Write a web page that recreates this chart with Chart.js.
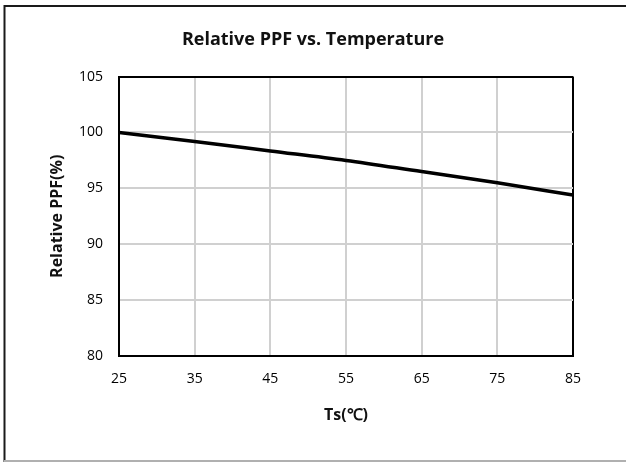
<!DOCTYPE html>
<html>
<head>
<meta charset="utf-8">
<script src="https://cdn.jsdelivr.net/npm/chart.js@4/dist/chart.umd.min.js"></script>
<style>
  html, body { margin: 0; padding: 0; background: #fff; }
  #wrap { position: relative; width: 626px; height: 462px; }
</style>
</head>
<body>
<div id="wrap"><canvas id="ppfChart" width="626" height="462"></canvas></div>
<script>
// 温度 (℃) 与相对光量子通量 (%)
var temperatures = [25, 35, 45, 55, 65, 75, 85];
var relativePPF = [100, 99.2, 98.35, 97.5, 96.5, 95.5, 94.4];
var xTicks = [25, 35, 45, 55, 65, 75, 85];
var yTicks = [80, 85, 90, 95, 100, 105];

var FONT = "'Open Sans', 'Liberation Sans', sans-serif";

// 外框：上、左为深色，下为浅灰
var frame = {
    id: 'frame',
    beforeDraw: function(chart) {
        var ctx = chart.ctx;
        ctx.save();
        ctx.fillStyle = '#fff';
        ctx.fillRect(0, 0, chart.width, chart.height);
        ctx.strokeStyle = '#1a1a1a';
        ctx.lineWidth = 2;
        ctx.beginPath();
        ctx.moveTo(4.5, chart.height);
        ctx.lineTo(4.5, 6);
        ctx.lineTo(chart.width, 6);
        ctx.stroke();
        ctx.strokeStyle = '#b0b0b0';
        ctx.beginPath();
        ctx.moveTo(4, 461);
        ctx.lineTo(chart.width, 461);
        ctx.stroke();
        ctx.restore();
    }
};

function gridColor(edge) {
    return function(c) {
        return c.tick && c.tick.value === edge ? '#000' : '#d0d0d0';
    };
}

var points = temperatures.map(function(t, i) {
    return { x: t, y: relativePPF[i] };
});

new Chart(document.getElementById('ppfChart'), {
    type: 'line',
    data: {
        datasets: [{
            data: points,
            borderColor: '#000',
            borderWidth: 3.5,
            pointRadius: 0,
            cubicInterpolationMode: 'monotone',
            fill: false
        }]
    },
    options: {
        responsive: false,
        animation: false,
        layout: { padding: 0 },
        plugins: {
            legend: { display: false },
            tooltip: { enabled: false },
            title: {
                display: true,
                text: 'Relative PPF vs. Temperature',
                color: '#111',
                font: { family: FONT, size: 18, weight: 'bold', lineHeight: 1.2 },
                padding: { top: 29, bottom: 26 }
            }
        },
        scales: {
            x: {
                type: 'linear',
                min: xTicks[0],
                max: xTicks[xTicks.length - 1],
                afterBuildTicks: function(scale) {
                    scale.ticks = xTicks.map(function(v) { return { value: v }; });
                },
                afterFit: function(scale) { scale.height = 106; },
                grid: {
                    color: gridColor(85),
                    lineWidth: 2,
                    drawTicks: false
                },
                border: { color: '#000', width: 2 },
                ticks: {
                    padding: 15,
                    color: '#000',
                    font: { family: FONT, size: 14 }
                },
                title: {
                    display: true,
                    text: 'Ts(℃)',
                    color: '#111',
                    font: { family: FONT, size: 16, weight: 'bold', lineHeight: 1.2 },
                    padding: { top: 0, bottom: 37 }
                }
            },
            y: {
                min: yTicks[0],
                max: yTicks[yTicks.length - 1],
                afterBuildTicks: function(scale) {
                    scale.ticks = yTicks.map(function(v) { return { value: v }; });
                },
                afterFit: function(scale) { scale.width = 119; },
                grid: {
                    color: gridColor(105),
                    lineWidth: 2,
                    drawTicks: false
                },
                border: { color: '#000', width: 2 },
                ticks: {
                    padding: 16,
                    color: '#000',
                    font: { family: FONT, size: 14 }
                },
                title: {
                    display: true,
                    text: 'Relative PPF(%)',
                    color: '#111',
                    font: { family: FONT, size: 16, weight: 'bold', lineHeight: 1.2 },
                    padding: { top: 48, bottom: 0 }
                }
            },
            // 右侧留白，使标题相对整幅图居中
            right: {
                position: 'right',
                min: yTicks[0],
                max: yTicks[yTicks.length - 1],
                afterFit: function(scale) { scale.width = 53; },
                grid: { display: false },
                border: { display: false },
                ticks: { display: false }
            }
        }
    },
    plugins: [frame]
});
</script>
</body>
</html>
